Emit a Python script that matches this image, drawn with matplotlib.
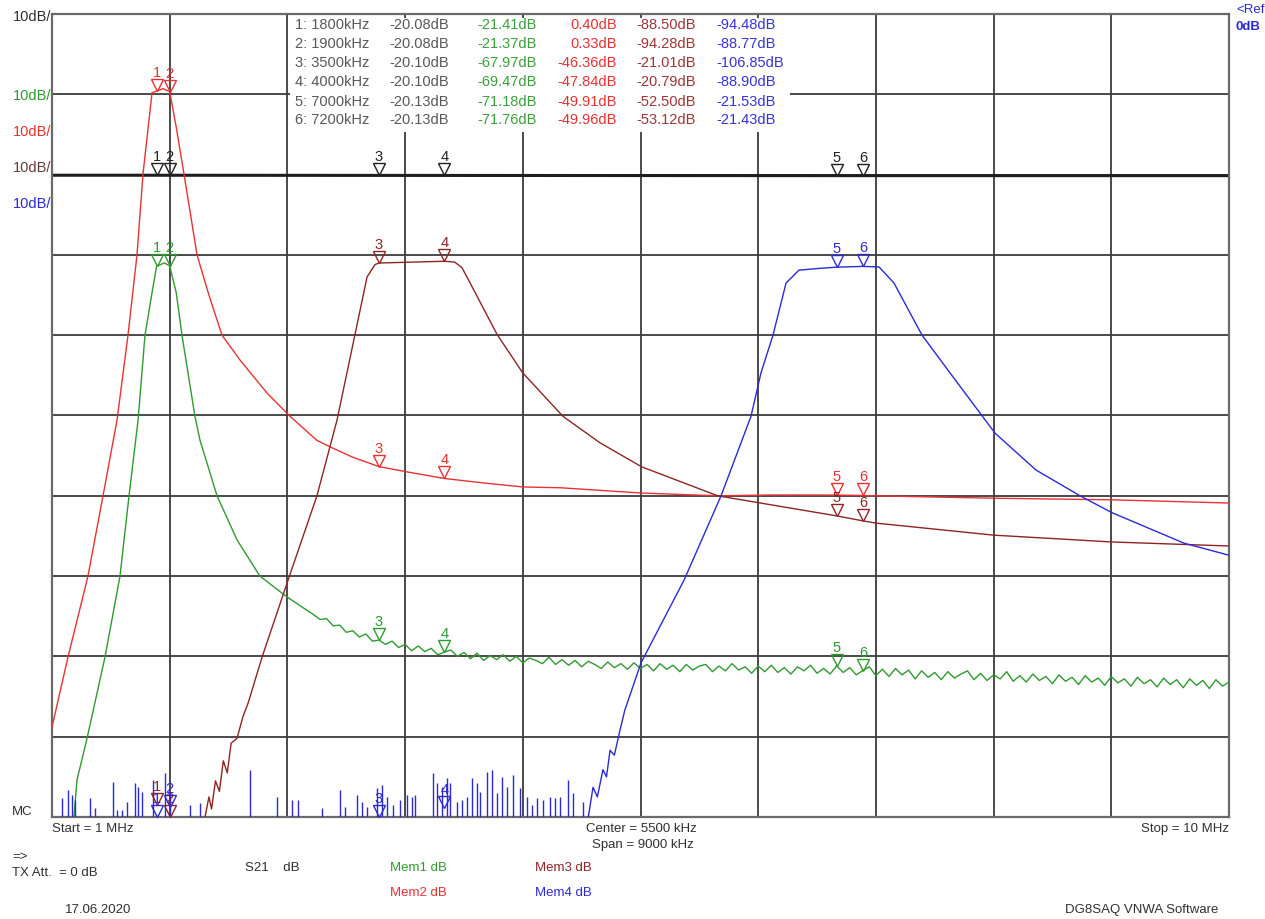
import numpy as np
import matplotlib.pyplot as plt
from matplotlib.patches import Rectangle
from matplotlib.transforms import offset_copy

plt.rcParams['font.family'] = ['Liberation Sans', 'DejaVu Sans']

# -------------------------
# Marker table (kHz / dB)
# -------------------------
marker_khz = [1800, 1900, 3500, 4000, 7000, 7200]
s21_mk = [-20.08, -20.08, -20.10, -20.10, -20.13, -20.13]
mem1_mk = [-21.41, -21.37, -67.97, -69.47, -71.18, -71.76]
mem2_mk = [0.40, 0.33, -46.36, -47.84, -49.91, -49.96]
mem3_mk = [-88.50, -94.28, -21.01, -20.79, -52.50, -53.12]
mem4_mk = [-94.48, -88.77, -106.85, -88.90, -21.53, -21.43]

# -------------------------
# Traces (MHz / dB)
# -------------------------
s21_f = [1.0, 1.8, 3.5, 7.0, 10.0]
s21_db = [-20.08, -20.08, -20.10, -20.13, -20.13]

# Mem2 (red)
mem2_f = [1.0, 1.122, 1.275, 1.390, 1.497, 1.581, 1.650, 1.696, 1.765, 1.80,
          1.85, 1.90, 1.95, 2.009, 2.109, 2.20, 2.300, 2.438, 2.644, 2.820,
          3.026, 3.126, 3.30, 3.50, 3.707, 4.00, 4.30, 4.60, 4.89, 5.50,
          6.09, 6.50, 7.00, 7.20, 7.30, 8.20, 9.105, 10.0]
mem2_db = [-78.8, -70.1, -60.0, -50.0, -40.6, -30.0, -20.0, -9.9, 0.2, 0.40,
           0.7, 0.33, -4.1, -9.9, -20.0, -25.0, -30.0, -33.1, -37.2, -40.1,
           -43.1, -43.9, -45.2, -46.36, -47.0, -47.84, -48.4, -48.9, -49.0, -49.65,
           -50.0, -49.9, -49.91, -49.96, -50.0, -50.3, -50.5, -50.9]

# Mem1 (green), low part then noisy tail
mem1_f_a = [1.168, 1.191, 1.268, 1.405, 1.520, 1.589, 1.658, 1.711, 1.765, 1.80,
            1.86, 1.90, 1.95, 1.994, 2.093, 2.132, 2.262, 2.415, 2.590, 2.797]
mem1_db_a = [-90.0, -85.4, -80.2, -70.1, -60.0, -50.0, -40.6, -30.0, -24.7, -21.41,
             -21.0, -21.37, -24.7, -30.0, -40.1, -43.1, -50.0, -55.5, -60.0, -62.6]
mem1_db_b = [
    -64.8, -65.4, -65.3, -66.2, -66.1, -67.0, -66.8, -67.6, -67.2, -68.1,
    -67.97, -68.5, -68.1, -68.9, -68.5, -69.3, -68.7, -69.4, -69.0, -69.8,
    -69.47, -69.2, -70.0, -69.5, -70.3, -69.6, -70.5, -69.9, -70.4, -69.8,
    -70.6, -70.0, -70.8, -70.2, -70.5, -70.9, -70.1, -71.0, -70.4, -71.1,
    -70.5, -71.3, -70.6, -71.0, -71.5, -70.7, -71.4, -70.9, -71.6, -70.8,
    -71.5, -71.0, -71.8, -70.9, -71.6, -71.1, -71.9, -71.0, -71.7, -71.2,
    -71.0, -71.9, -71.2, -71.8, -70.9, -71.7, -71.3, -72.1, -71.2, -71.9,
    -71.1, -72.0, -71.4, -72.2, -71.3, -71.8, -71.1, -72.1, -71.5, -72.2,
    -71.18, -72.0, -71.4, -72.3, -71.76, -71.3, -72.4, -71.6, -72.5, -71.5,
    -72.3, -71.7, -72.8, -71.8, -72.6, -72.0, -72.9, -71.9, -72.7, -72.2,
    -71.8, -72.9, -72.1, -73.0, -72.3, -72.8, -71.9, -73.1, -72.4, -73.2,
    -72.2, -73.0, -72.5, -73.4, -72.3, -73.1, -72.6, -73.5, -72.4, -73.2,
    -72.7, -73.6, -72.5, -73.3, -72.8, -73.7, -72.6, -73.4, -72.9, -73.8,
    -72.7, -73.5, -72.9, -73.9, -72.8, -73.6, -73.0, -74.0, -72.9, -73.7,
    -73.2]
mem1_f_b = np.linspace(3.0, 10.0, len(mem1_db_b))

# Mem3 (brown)
mem3_f = [2.17, 2.20, 2.22, 2.25, 2.28, 2.31, 2.34, 2.37, 2.415, 2.46,
          2.50, 2.606, 2.805, 3.026, 3.179, 3.317, 3.409, 3.47, 3.50, 3.75,
          4.00, 4.08, 4.135, 4.173, 4.403, 4.60, 4.907, 5.19, 5.51, 6.09,
          7.00, 7.20, 7.30, 8.20, 9.105, 10.0]
mem3_db = [-90.0, -87.5, -89.0, -85.5, -86.8, -83.0, -84.5, -80.8, -80.2, -77.5,
           -75.8, -70.1, -60.5, -50.0, -40.6, -29.9, -22.75, -21.2, -21.01, -20.9,
           -20.79, -20.9, -21.6, -22.75, -29.9, -34.7, -40.1, -43.4, -46.4, -50.0,
           -52.50, -53.12, -53.4, -54.9, -55.75, -56.25]

# Mem4 (blue): noise spikes, then the band-pass response
mem4_spike_f = [1.074, 1.125, 1.150, 1.176, 1.291, 1.329, 1.469, 1.495, 1.533, 1.576,
                1.635, 1.660, 1.686, 1.775, 1.864, 1.902, 2.055, 2.132, 2.514, 2.718,
                2.833, 2.883, 3.062, 3.202, 3.240, 3.330, 3.368, 3.406, 3.483, 3.521,
                3.559, 3.610, 3.661, 3.712, 3.751, 3.776, 3.916, 3.942, 3.980, 4.018,
                4.043, 4.095, 4.133, 4.171, 4.209, 4.248, 4.273, 4.324, 4.362, 4.400,
                4.439, 4.477, 4.527, 4.579, 4.630, 4.668, 4.706, 4.757, 4.808, 4.846,
                4.884, 4.948, 4.986, 5.063]
mem4_spike_db = [-87.6, -86.6, -87.3, -87.9, -87.6, -88.9, -85.6, -89.1, -89.1, -88.1,
                 -85.8, -86.3, -86.9, -85.4, -84.5, -87.0, -88.5, -88.3, -84.1, -87.5,
                 -87.9, -87.9, -88.9, -86.6, -88.8, -87.3, -88.1, -88.8, -86.4, -86.0,
                 -87.5, -88.5, -87.9, -87.3, -87.5, -87.3, -84.5, -85.8, -86.3, -85.1,
                 -85.8, -88.1, -87.9, -87.5, -85.1, -85.8, -86.9, -84.4, -84.1, -87.0,
                 -85.0, -86.3, -84.8, -86.4, -87.5, -88.5, -87.6, -87.9, -87.5, -87.6,
                 -87.5, -85.4, -87.0, -88.1]
mem4_f = [5.101, 5.137, 5.17, 5.213, 5.24, 5.267, 5.30, 5.343, 5.38, 5.504,
          5.833, 6.116, 6.345, 6.421, 6.513, 6.613, 6.712, 6.85, 7.00, 7.20,
          7.324, 7.438, 7.653, 7.867, 8.211, 8.525, 8.861, 9.105, 9.656, 10.0]
mem4_db = [-90.0, -86.3, -87.5, -84.1, -85.0, -81.7, -82.3, -79.2, -76.7, -70.8,
           -60.5, -50.0, -40.1, -34.7, -30.0, -23.5, -21.9, -21.7, -21.53, -21.43,
           -21.5, -23.5, -30.0, -34.7, -42.2, -46.8, -50.0, -52.1, -55.9, -57.4]

# -------------------------
# Style
# -------------------------
W, H = 1265, 919
C_TXT = '#303030'
C_GREEN = '#2f9a2f'
C_RED = '#e83232'
C_BROWN = '#8e2424'
C_BLUE = '#2a2ad8'
Y_MIN, Y_MAX = -90, 10
S21_SHIFT = 10  # S21 reference sits one division above the Mem references

fig = plt.figure(figsize=(W / 100, H / 100), dpi=100)
fig.patch.set_facecolor('white')
ax = fig.add_axes([52 / W, 1 - 817 / H, 1177 / W, 803 / H])
ax.set_xlim(1.0, 10.0)
ax.set_ylim(Y_MIN, Y_MAX)
ax.set_xticks(np.linspace(1.0, 10.0, 11))
ax.set_yticks(np.arange(Y_MIN, Y_MAX + 1, 10))
ax.tick_params(length=0, labelbottom=False, labelleft=False)
ax.grid(True, color='#3c3c3c', lw=1.3, zorder=0)
for sp in ax.spines.values():
    sp.set_color('#6a6a6a')
    sp.set_linewidth(1.6)

ax.plot(s21_f, np.array(s21_db) + S21_SHIFT, color='#1e1e1e', lw=2.2, zorder=2)
ax.plot(mem2_f, mem2_db, color=C_RED, lw=1.0, zorder=3)
ax.plot(mem1_f_a + list(mem1_f_b), mem1_db_a + mem1_db_b, color=C_GREEN, lw=1.0, zorder=3)
ax.plot(mem3_f, mem3_db, color=C_BROWN, lw=1.0, zorder=3)
ax.vlines(mem4_spike_f, Y_MIN, mem4_spike_db, color=C_BLUE, lw=1.0, zorder=3)
ax.plot(mem4_f, mem4_db, color=C_BLUE, lw=1.0, zorder=3)

# -------------------------
# Markers
# -------------------------
tri_tr = offset_copy(ax.transData, fig=fig, x=0, y=6, units='dots')
num_tr = offset_copy(ax.transData, fig=fig, x=0, y=11, units='dots')
mk_f = [k / 1000 for k in marker_khz]


def draw_markers(vals, color, shift=0.0):
    for i, (f, v) in enumerate(zip(mk_f, vals)):
        y = max(v + shift, Y_MIN)
        ax.plot(f, y, marker='v', ms=8.5, mfc='none', mec=color, mew=1.0,
                transform=tri_tr, clip_on=False, zorder=5)
        ax.text(f, y, str(i + 1), transform=num_tr, color=color, ha='center',
                va='bottom', fontsize=10.5, zorder=5)


draw_markers(s21_mk, '#202020', S21_SHIFT)
draw_markers(mem1_mk, C_GREEN)
draw_markers(mem2_mk, C_RED)
draw_markers(mem3_mk, C_BROWN)
draw_markers(mem4_mk, C_BLUE)


def ftext(x, y, s, **kw):
    kw.setdefault('fontsize', 9.5)
    kw.setdefault('va', 'center')
    kw.setdefault('color', C_TXT)
    fig.text(x / W, 1 - y / H, s, **kw)


# -------------------------
# Marker value table
# -------------------------
fig.patches.append(Rectangle((290 / W, 1 - 132 / H), 500 / W, 114 / H,
                             transform=fig.transFigure, facecolor='white',
                             edgecolor='none', zorder=1))
row_y = [25, 44, 63, 82.5, 101.5, 120.5]
for i in range(len(marker_khz)):
    y = row_y[i]
    kw = dict(fontsize=10.5, zorder=2)
    ftext(295, y, f"{i + 1}: {marker_khz[i]}kHz", color='#585858', **kw)
    ftext(389, y, f"{s21_mk[i]:.2f}dB", color='#585858', **kw)
    ftext(477, y, f"{mem1_mk[i]:.2f}dB", color='#3aa03a', **kw)
    ftext(617, y, f"{mem2_mk[i]:.2f}dB", color=C_RED, ha='right', **kw)
    ftext(636, y, f"{mem3_mk[i]:.2f}dB", color='#a03434', **kw)
    ftext(716, y, f"{mem4_mk[i]:.2f}dB", color='#3434d8', **kw)

# -------------------------
# Scale labels and footer
# -------------------------
for y, c in [(17, C_TXT), (96, C_GREEN), (132, C_RED), (168, '#6a3a3a'), (204, C_BLUE)]:
    ftext(51, y, "10dB/", color=c, ha='right', fontsize=10.5)
ftext(1236, 10, "<Ref", color=C_BLUE)
ftext(1236, 27, "0dB", color=C_BLUE, fontweight='bold')
ftext(12, 812, "MC")
ftext(52, 829, "Start = 1 MHz")
ftext(641, 829, "Center = 5500 kHz", ha='center')
ftext(643, 845, "Span = 9000 kHz", ha='center')
ftext(1229, 829, "Stop = 10 MHz", ha='right')
ftext(12, 857, "=>")
ftext(12, 873, "TX Att.  = 0 dB")
ftext(245, 868, "S21    dB")
ftext(390, 868, "Mem1 dB", color=C_GREEN)
ftext(535, 868, "Mem3 dB", color=C_BROWN)
ftext(390, 893, "Mem2 dB", color=C_RED)
ftext(535, 893, "Mem4 dB", color=C_BLUE)
ftext(65, 910, "17.06.2020")
ftext(1218, 910, "DG8SAQ VNWA Software", ha='right')

fig.savefig("out.png", dpi=100, facecolor='white')
